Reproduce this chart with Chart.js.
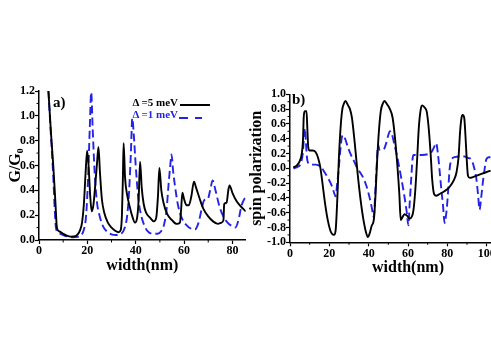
<!DOCTYPE html>
<html><head><meta charset="utf-8">
<script src="https://cdn.jsdelivr.net/npm/chart.js@4/dist/chart.umd.min.js"></script>
<style>
html,body{margin:0;padding:0;background:#fff;overflow:hidden;width:491px;height:347px;position:relative;}
#c1{position:absolute;left:0;top:0;}
#c2{position:absolute;left:240px;top:0;}
.t{position:absolute;font-family:'Liberation Serif','Times New Roman',serif;font-weight:bold;white-space:nowrap;line-height:1;}
.leg{text-align:right;width:60px;font-size:11px;}
.ln{position:absolute;height:0;}
</style></head><body>
<canvas id="c1" width="250" height="347"></canvas>
<canvas id="c2" width="300" height="347"></canvas>
<div class="t" style="left:53px;top:95px;font-size:15px;">a)</div>
<div class="t" style="left:292px;top:92px;font-size:15px;">b)</div>
<div class="t leg" id="l1" style="left:118px;top:97px;color:#000;"></div>
<div class="t leg" id="l2" style="left:118px;top:109px;color:#2424e8;"></div>
<div class="ln" style="left:180px;top:104px;width:30px;border-top:2px solid #000;"></div>
<div class="ln" style="left:179px;top:117px;width:9px;border-top:2px solid #2424e8;"></div>
<div class="ln" style="left:195px;top:117px;width:7px;border-top:2px solid #2424e8;"></div>
<script>
// ---- data ----
const seriesLabels = ['\u0394 =5 meV', '\u0394 =1 meV'];

// panel a) G/G0 vs width(nm)
const gWidthD5 = [3.9,5.0,5.9,6.8,7.4,8.4,10,11.5,13.2,15,16,17,17.8,18.6,19.3,19.9,20.5,21.2,21.8,22.5,23.3,24,24.6,25.2,26,27,28.5,30,31.5,33,33.8,34.3,34.7,35,35.6,36.5,37.5,38.6,39.7,40.6,41.2,41.8,42.5,43.3,44.3,45.9,47.5,48.5,49.2,49.8,50.6,51.5,53,55,57,58.3,58.8,59.3,60,61,62,63,64.1,65,66.5,68,70,72,74,75.5,76.3,76.6,77.6,78.3,78.8,80,81.5,83,84.5,85.5];
const gValD5   = [1.20,0.85,0.60,0.30,0.10,0.07,0.05,0.035,0.027,0.03,0.045,0.08,0.14,0.30,0.55,0.72,0.60,0.35,0.23,0.28,0.45,0.62,0.75,0.55,0.33,0.22,0.14,0.10,0.075,0.063,0.08,0.20,0.50,0.78,0.50,0.36,0.27,0.19,0.14,0.18,0.32,0.63,0.42,0.29,0.22,0.18,0.15,0.18,0.35,0.58,0.40,0.30,0.21,0.16,0.13,0.14,0.25,0.38,0.33,0.28,0.28,0.35,0.47,0.42,0.33,0.25,0.19,0.15,0.13,0.14,0.16,0.29,0.30,0.40,0.44,0.38,0.32,0.28,0.25,0.23];
const gWidthD1 = [3.9,5.0,5.8,6.5,7.0,8,10,12,14,16,17.5,18.5,19.5,20.3,21,21.6,22.2,23,24,25,26.5,28,30,32,34,35.5,36.5,37.3,38,38.6,39.2,40,41,42,43.5,45,47,49,50.5,51.8,52.8,53.6,54.3,54.8,55.5,56.5,57.5,59,61,63,64.5,66,67.3,68.3,69.8,70.8,71.8,73,74.5,76,78,80,81.2,82.5,83.8,85.5];
const gValD1   = [1.20,0.82,0.55,0.25,0.10,0.06,0.04,0.028,0.022,0.025,0.04,0.08,0.20,0.50,0.90,1.19,0.90,0.55,0.30,0.20,0.11,0.07,0.045,0.04,0.05,0.10,0.20,0.40,0.70,0.98,0.85,0.60,0.35,0.22,0.12,0.07,0.05,0.05,0.07,0.13,0.25,0.45,0.60,0.69,0.55,0.40,0.28,0.18,0.12,0.09,0.085,0.14,0.25,0.32,0.33,0.40,0.48,0.40,0.28,0.20,0.14,0.11,0.10,0.16,0.28,0.35];

// panel b) spin polarization vs width(nm)
const pWidthD5 = [1.7,3.5,5,6,6.6,7.0,7.5,8.4,8.8,9.3,10,11.5,13,14.3,15.5,16.5,17.8,19.2,20.5,21.5,22.4,23.2,24,24.8,25.6,26.5,27.5,28.2,29.5,30.5,31.5,33,34.5,36,37.5,38.8,39.6,40.5,41.5,42.7,43.5,44.3,45.2,46.2,47.3,48.0,49.5,50.8,52.2,53.5,54.7,55.6,56.3,57.2,58.3,59.5,60.8,61.8,62.7,63.7,64.6,65.5,66.5,67.3,68.5,69.5,70.5,71.5,72.3,73.3,74.5,76.5,78.5,80.5,82,83.5,84.7,85.7,86.5,87.2,87.8,88.6,89.2,89.8,90.5,91.5,93,95,97,99,102];
const pValD5   = [0.01,0.04,0.10,0.20,0.38,0.70,0.77,0.77,0.55,0.28,0.24,0.24,0.22,0.14,0.0,-0.20,-0.47,-0.70,-0.84,-0.89,-0.90,-0.84,-0.45,0.10,0.50,0.78,0.88,0.91,0.85,0.80,0.68,0.32,-0.10,-0.45,-0.72,-0.88,-0.93,-0.88,-0.78,-0.68,-0.35,0.10,0.50,0.78,0.88,0.91,0.86,0.80,0.68,0.38,0.0,-0.35,-0.70,-0.66,-0.62,-0.64,-0.68,-0.66,-0.58,-0.30,0.10,0.55,0.80,0.85,0.82,0.77,0.55,0.20,-0.15,-0.35,-0.37,-0.34,-0.31,-0.27,-0.22,-0.15,-0.05,0.15,0.50,0.68,0.72,0.68,0.45,0.15,-0.10,-0.13,-0.12,-0.10,-0.08,-0.06,-0.03];
const pWidthD1 = [1.7,4,5.5,6.5,7.2,7.6,8.1,8.6,9.3,11,13,14.5,16,17.5,19.5,21,22.3,23.2,24,24.8,25.6,26.3,27.0,28,29.5,31,32.5,34,35.5,37.3,39,40.5,41.5,42.6,43.3,44.0,44.8,45.5,47.5,48.8,50,50.8,51.8,53,54.3,55.5,56.7,58,59.3,60.2,60.8,61.5,62.3,62.8,64.5,67,70,72,73.5,74.3,75.2,76.1,77,77.8,78.6,79.5,80.3,81.2,82.2,83.7,86,88.8,90.5,92.2,93.5,94.7,95.6,96.4,97.2,98.1,99,99.8,101,102];
const pValD1   = [0.0,0.02,0.07,0.20,0.45,0.54,0.35,0.15,0.07,0.05,0.05,0.04,0.01,-0.05,-0.14,-0.22,-0.32,-0.38,-0.20,0.0,0.25,0.41,0.45,0.40,0.28,0.18,0.10,0.01,-0.05,-0.13,-0.25,-0.40,-0.52,-0.66,-0.35,0.0,0.32,0.25,0.25,0.33,0.45,0.50,0.46,0.33,0.18,0.02,-0.15,-0.35,-0.58,-0.77,-0.50,-0.20,0.12,0.18,0.18,0.18,0.19,0.22,0.30,0.34,0.20,-0.04,-0.30,-0.50,-0.74,-0.60,-0.35,0.0,0.12,0.15,0.16,0.16,0.14,0.12,0.02,-0.13,-0.35,-0.56,-0.40,-0.18,0.0,0.12,0.15,0.15];

// tick labels
const aXTicks = [0,20,40,60,80];
const aYTicks = [0.0,0.2,0.4,0.6,0.8,1.0,1.2];
const bXTicks = [0,20,40,60,80,100,120];
const bYTicks = [-1.0,-0.8,-0.6,-0.4,-0.2,0.0,0.2,0.4,0.6,0.8,1.0];

// ---- helpers ----
const pts = (xs, ys) => xs.map((x, i) => ({x: x, y: ys[i]}));
const BLUE = '#2424e8';
const FONT = "'Liberation Serif','Times New Roman',serif";
document.getElementById('l1').textContent = seriesLabels[0];
document.getElementById('l2').textContent = seriesLabels[1];

const minorTicks = {
  id: 'minorTicks',
  afterDraw(chart, args, opts) {
    const ctx = chart.ctx;
    ctx.save();
    ctx.strokeStyle = '#000';
    ctx.lineWidth = 1;
    [['x', opts.x, opts.xMajor], ['y', opts.y, opts.yMajor]].forEach(([id, step, major]) => {
      const s = chart.scales[id];
      if (!s || !step) return;
      const start = Math.ceil(s.min / step - 1e-9);
      const end = Math.floor(s.max / step + 1e-9);
      for (let k = start; k <= end; k++) {
        const v = k * step;
        const r = v / major;
        if (Math.abs(r - Math.round(r)) < 1e-6) continue;
        const p = s.getPixelForValue(v);
        ctx.beginPath();
        if (id === 'x') { ctx.moveTo(p, s.top); ctx.lineTo(p, s.top + 2.5); }
        else { ctx.moveTo(s.right, p); ctx.lineTo(s.right - 2.5, p); }
        ctx.stroke();
      }
    });
    ctx.restore();
  }
};

function axis(min, max, ticksArr, title, fitKey, fitVal, titlePad, fmt) {
  return {
    type: 'linear', min: min, max: max,
    afterBuildTicks: (s) => { s.ticks = ticksArr.map(v => ({value: v})); },
    afterFit: (s) => { s[fitKey] = fitVal; },
    border: {display: true, color: '#000', width: 1.5},
    grid: {display: true, drawOnChartArea: false, drawTicks: true, tickLength: 4, tickColor: '#000', tickWidth: 1.2},
    ticks: {color: '#000', padding: 0, autoSkip: false, maxRotation: 0,
      font: {family: FONT, size: 12, weight: 'bold'}, callback: fmt},
    title: {display: true, text: title, color: '#000', padding: titlePad,
      font: {family: FONT, size: 16, weight: 'bold'}}
  };
}
const fmtInt = (v) => String(Math.round(v));
const fmt1 = (v) => (Math.abs(v) < 1e-9 ? '0.0' : v.toFixed(1));

function ds(label, data, color, dash) {
  return {label: label, data: data, borderColor: color, backgroundColor: color,
    borderWidth: 1.9, borderDash: dash, pointRadius: 0, fill: false,
    cubicInterpolationMode: 'monotone'};
}

const common = (pad) => ({
  responsive: false, devicePixelRatio: 1, animation: false,
  layout: {padding: pad},
  plugins: {legend: {display: false}, tooltip: {enabled: false},
    minorTicks: {x: 10, xMajor: 20, y: 0.1, yMajor: 0.2}}
});

new Chart(document.getElementById('c1'), {
  type: 'line',
  data: {datasets: [
    ds(seriesLabels[0], pts(gWidthD5, gValD5), '#000', []),
    ds(seriesLabels[1], pts(gWidthD1, gValD1), BLUE, [8, 4])
  ]},
  options: Object.assign(common({top: 91, right: 4.3, bottom: 72, left: 0}), {
    scales: {
      x: axis(0, 85.5, aXTicks, 'width(nm)', 'height', 35, {top: 3, bottom: 0}, fmtInt),
      y: axis(0, 1.2, aYTicks, 'G/G\u2080', 'width', 39, {top: 6, bottom: 0}, fmt1)
    }
  }),
  plugins: [minorTicks]
});

new Chart(document.getElementById('c2'), {
  type: 'line',
  data: {datasets: [
    ds(seriesLabels[0], pts(pWidthD5, pValD5), '#000', []),
    ds(seriesLabels[1], pts(pWidthD1, pValD1), BLUE, [8, 4])
  ]},
  options: Object.assign(common({top: 94.3, right: 14, bottom: 69.7, left: 0}), {
    scales: {
      x: axis(0, 120, bXTicks, 'width(nm)', 'height', 35, {top: 3, bottom: 0}, fmtInt),
      y: axis(-1, 1, bYTicks, 'spin polarization', 'width', 50, {top: 7, bottom: 0}, fmt1)
    }
  }),
  plugins: [minorTicks]
});
</script>
</body></html>
